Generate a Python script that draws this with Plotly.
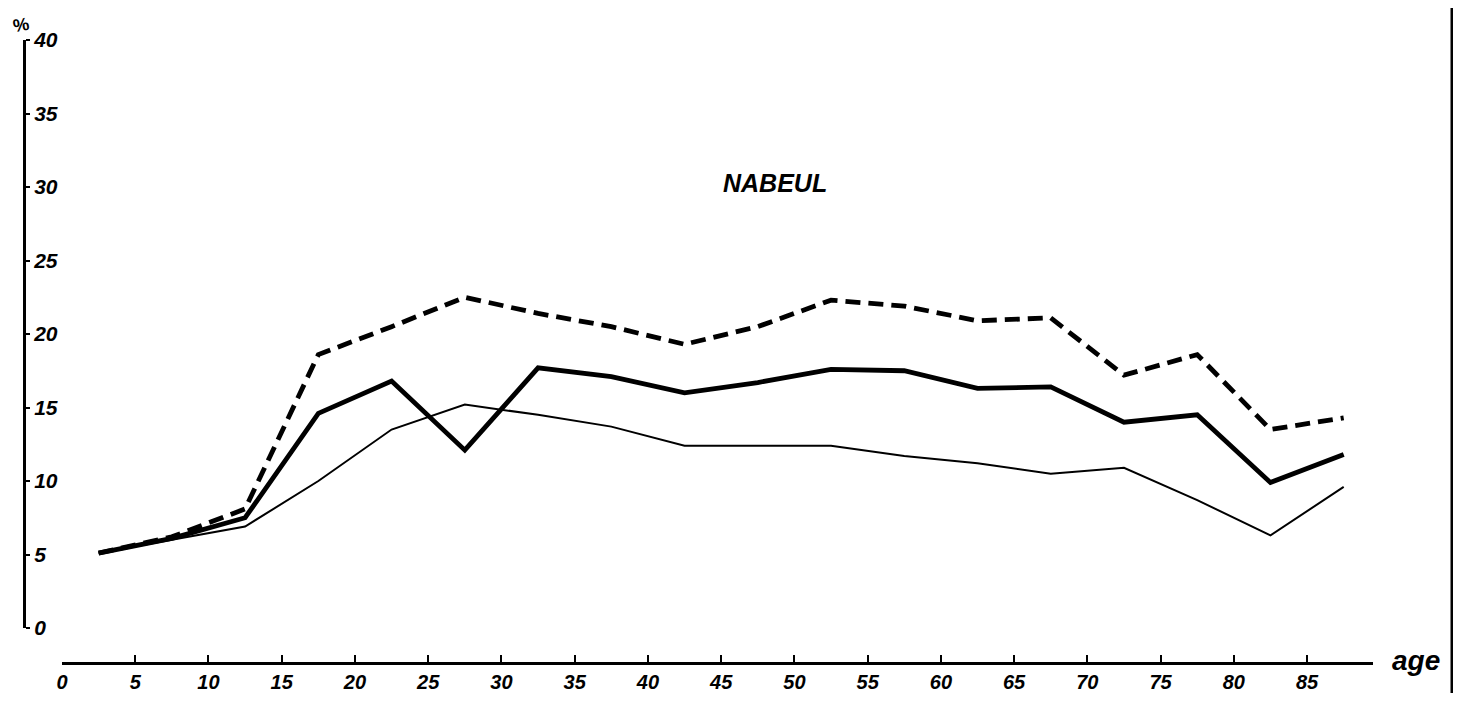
import plotly.graph_objects as go

# Age-group midpoints (years)
ages = [2.5, 7.5, 12.5, 17.5, 22.5, 27.5, 32.5, 37.5, 42.5, 47.5,
        52.5, 57.5, 62.5, 67.5, 72.5, 77.5, 82.5, 87.5]

# Series values (%)
dashed_vals = [5.1, 6.2, 8.1, 18.6, 20.5, 22.5, 21.4, 20.5, 19.3, 20.5,
               22.3, 21.9, 20.9, 21.1, 17.2, 18.6, 13.5, 14.3]
thick_vals = [5.1, 6.1, 7.5, 14.6, 16.8, 12.1, 17.7, 17.1, 16.0, 16.7,
              17.6, 17.5, 16.3, 16.4, 14.0, 14.5, 9.9, 11.8]
thin_vals = [5.1, 6.0, 6.9, 10.0, 13.5, 15.2, 14.5, 13.7, 12.4, 12.4,
             12.4, 11.7, 11.2, 10.5, 10.9, 8.7, 6.3, 9.6]

x_ticks = [0, 5, 10, 15, 20, 25, 30, 35, 40, 45, 50, 55, 60, 65, 70, 75, 80, 85]
y_ticks = [0, 5, 10, 15, 20, 25, 30, 35, 40]

# The page body has an 8px margin: size the figure so page == 1461x701
OFF = 8
W, H = 1461 - 2 * OFF, 701 - 2 * OFF


def px(x):
    return (x - OFF) / W


def py(y):
    return (H - (y - OFF)) / H


FONT = "Liberation Sans Narrow, Liberation Sans, Arial, sans-serif"
tick_font = dict(family=FONT, size=20, color="black", weight="bold", style="italic")

fig = go.Figure()
fig.add_trace(go.Scatter(x=ages, y=thin_vals, mode="lines",
                         line=dict(color="black", width=2), name="thin"))
fig.add_trace(go.Scatter(x=ages, y=thick_vals, mode="lines",
                         line=dict(color="black", width=4.8), name="thick"))
fig.add_trace(go.Scatter(x=ages, y=dashed_vals, mode="lines",
                         line=dict(color="black", width=4.8, dash="15px,8px"),
                         name="dashed"))

fig.update_layout(
    template="none",
    width=W, height=H,
    margin=dict(l=0, r=0, t=0, b=0, pad=0),
    paper_bgcolor="white", plot_bgcolor="white",
    showlegend=False,
    xaxis=dict(
        domain=[px(62), px(1373)], range=[0, 89.5],
        anchor="free", position=py(663), side="bottom",
        automargin=False,
        showgrid=False, zeroline=False,
        showline=True, linecolor="black", linewidth=3,
        tickmode="array", tickvals=x_ticks, ticktext=[str(v) for v in x_ticks],
        ticks="inside", ticklen=7, tickwidth=2, tickcolor="black",
        ticklabelstandoff=0,
        tickfont=tick_font,
    ),
    yaxis=dict(
        domain=[py(628), py(40)], range=[0, 40],
        anchor="free", position=px(24), side="right",
        automargin=False,
        showgrid=False, zeroline=False,
        showline=True, linecolor="black", linewidth=3,
        tickmode="array", tickvals=y_ticks, ticktext=[str(v) for v in y_ticks],
        ticks="outside", ticklen=4, tickwidth=2, tickcolor="black",
        tickfont=dict(family=FONT, size=21, color="black", weight="bold", style="italic"),
    ),
    annotations=[
        dict(text="NABEUL", x=48.7, y=30.3, xref="x", yref="y",
             xanchor="center", yanchor="middle", showarrow=False,
             font=dict(family=FONT, size=25, color="black", weight="bold", style="italic")),
        dict(text="age", x=px(1416), y=py(660), xref="paper", yref="paper",
             xanchor="center", yanchor="middle", showarrow=False,
             font=dict(family=FONT, size=28, color="black", weight="bold", style="italic")),
        dict(text="%", x=px(21), y=py(25), xref="paper", yref="paper",
             xanchor="center", yanchor="middle", showarrow=False, textangle=-10,
             font=dict(family=FONT, size=18, color="black", weight="bold")),
    ],
    shapes=[
        dict(type="line", xref="paper", yref="paper",
             x0=px(1452), x1=px(1452), y0=0, y1=1,
             line=dict(color="black", width=3)),
    ],
)

fig.write_html("out.html")
